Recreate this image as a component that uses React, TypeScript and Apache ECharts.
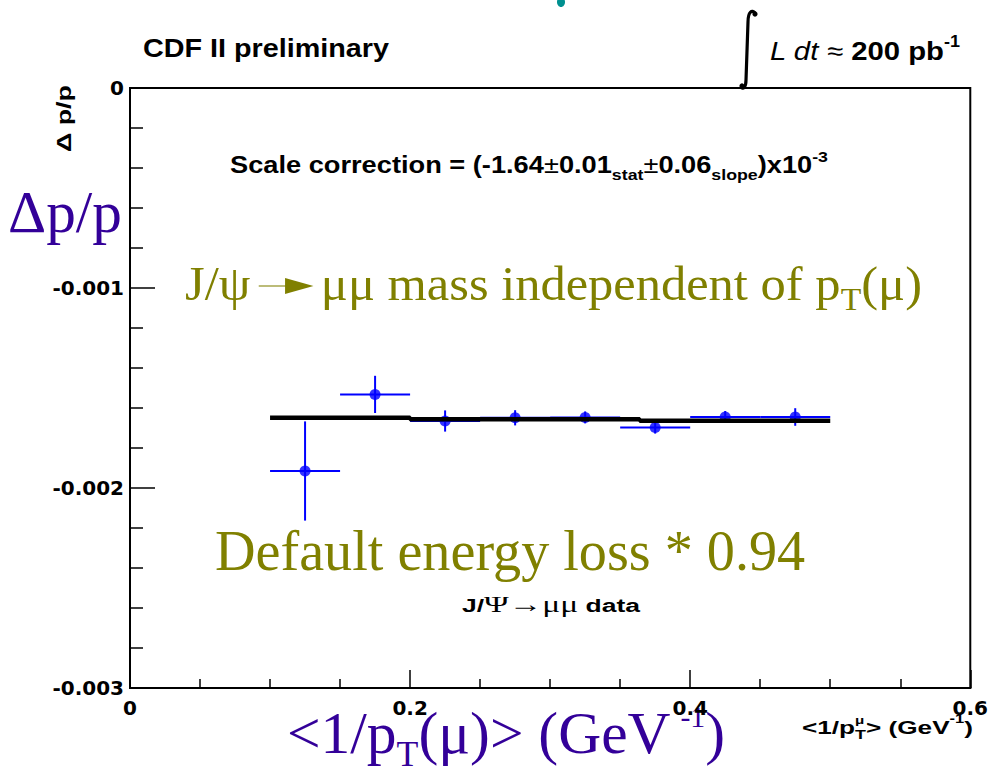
import React, { useEffect, useRef } from 'react';
import * as echarts from 'echarts';

// ---- data ----
const binCenters = [0.125, 0.175, 0.225, 0.275, 0.325, 0.375, 0.425, 0.475];
const binHalfWidths = [0.025, 0.025, 0.025, 0.025, 0.025, 0.025, 0.025, 0.025];
const dpOverP = [-0.001915, -0.001532, -0.001665, -0.001649, -0.001647, -0.001698, -0.001645, -0.001645];
const dpErrors = [0.000248, 0.000093, 0.000053, 0.000038, 0.00003, 0.00003, 0.00003, 0.000044];
const fitEdges = [0.1, 0.2, 0.364, 0.5];
const fitLevels = [-0.0016485, -0.0016565, -0.0016635];
const xTickLabels = ['0', '0.2', '0.4', '0.6'];
const yTickLabels = ['-0.003', '-0.002', '-0.001', '0'];

const SANS = 'Liberation Sans';
const SERIF = 'Liberation Serif';
const OLIVE = '#808000';
const PURPLE = '#330099';
const BLUE = '#0000ff';

type Seg = {
  t?: string;
  size?: number;
  fam?: string;
  w?: string;
  it?: boolean;
  dy?: number;
  stay?: boolean;
  gap?: number;
  arrow?: boolean;
};

let measureCtx: CanvasRenderingContext2D | null = null;
function fontStr(s: Seg) {
  return `${s.it ? 'italic ' : ''}${s.w || 'normal'} ${s.size}px "${s.fam || SANS}"`;
}
function measure(s: Seg) {
  if (!measureCtx) measureCtx = document.createElement('canvas').getContext('2d');
  measureCtx!.font = fontStr(s);
  return measureCtx!.measureText(s.t || '').width;
}

function block(
  segs: Seg[],
  opt: { x: number; y: number; fill: string; width?: number; align?: 'left' | 'center'; rotation?: number }
) {
  const widths = segs.map((s) => (s.gap !== undefined ? s.gap : measure(s)));
  let raw = 0;
  segs.forEach((s, i) => {
    if (!s.stay) raw += widths[i];
  });
  const k = opt.width ? opt.width / raw : 1;
  const total = raw * k;
  const children: any[] = [];
  let x = 0;
  segs.forEach((s, i) => {
    if (s.gap !== undefined) {
      if (s.arrow) {
        const cy = -14;
        children.push({
          type: 'line',
          shape: { x1: x + 8 * k, y1: cy, x2: x + 34 * k, y2: cy },
          style: { stroke: opt.fill, lineWidth: 1.5, opacity: 0.7 },
        });
        children.push({
          type: 'polygon',
          shape: { points: [[x + 33 * k, cy - 8], [x + 60 * k, cy], [x + 33 * k, cy + 8]] },
          style: { fill: opt.fill },
        });
      }
      x += widths[i] * k;
      return;
    }
    const size = s.size || 16;
    children.push({
      type: 'text',
      x,
      y: (s.dy || 0) - 0.345 * size,
      scaleX: k,
      style: {
        text: s.t,
        fill: opt.fill,
        fontSize: size,
        fontFamily: s.fam || SANS,
        fontWeight: s.w || 'normal',
        fontStyle: s.it ? 'italic' : 'normal',
        align: 'left',
        verticalAlign: 'middle',
      },
    });
    if (!s.stay) x += widths[i] * k;
  });
  const x0 = opt.align === 'center' ? opt.x - total / 2 : opt.x;
  return {
    type: 'group',
    x: x0,
    y: opt.y,
    rotation: opt.rotation || 0,
    silent: true,
    children,
  };
}

const integralPath = 'M 755 13 C 752 9 748 12 748 22 L 746 80 C 746 87 743 90 741 87';
echarts.graphic.registerShape('integralSign', echarts.graphic.extendPath(integralPath, {}) as any);

export default function App() {
  const ref = useRef<HTMLDivElement>(null);

  useEffect(() => {
    if (!ref.current) return;
    const chart = echarts.init(ref.current, undefined, { renderer: 'svg' });

    const errData = binCenters.map((c, i) => [c, dpOverP[i], binHalfWidths[i], dpErrors[i]]);
    const pointData = binCenters.map((c, i) => [c, dpOverP[i]]);
    const fitData: number[][] = [];
    fitLevels.forEach((lv, i) => {
      fitData.push([fitEdges[i], lv]);
      fitData.push([fitEdges[i + 1], lv]);
    });

    const B = 'bold';
    const graphics: any[] = [
      // teal fragment of slide title
      { type: 'ellipse', shape: { cx: 561, cy: 2, rx: 4, ry: 5 }, style: { fill: '#009090' }, silent: true },
      block([{ t: 'CDF II preliminary', size: 25, w: B }], { x: 143, y: 57, fill: '#000', width: 246 }),
      { type: 'integralSign', x: 0, y: 0, style: { stroke: '#000', lineWidth: 3.2, fill: 'none' }, silent: true },
      { type: 'circle', shape: { cx: 755, cy: 14, r: 2.6 }, style: { fill: '#000' }, silent: true },
      { type: 'circle', shape: { cx: 742, cy: 86, r: 2.6 }, style: { fill: '#000' }, silent: true },
      block(
        [
          { t: 'L dt', size: 26, it: true },
          { t: ' \u2248 ', size: 26 },
          { t: '200 pb', size: 26, w: B },
          { t: '-1', size: 16, w: B, dy: -13 },
        ],
        { x: 770, y: 60, fill: '#000', width: 190 }
      ),
      block([{ t: '\u0394 p/p', size: 21, w: B }], { x: 71, y: 152, fill: '#000', width: 67, rotation: Math.PI / 2 }),
      block([{ t: '\u0394p/p', size: 60, fam: SERIF }], { x: 8, y: 233, fill: PURPLE, width: 114 }),
      block(
        [
          { t: 'Scale correction = (-1.64', size: 23, w: B },
          { t: '\u00b1', size: 23 },
          { t: '0.01', size: 23, w: B },
          { t: 'stat', size: 15, w: B, dy: 7 },
          { t: '\u00b1', size: 23 },
          { t: '0.06', size: 23, w: B },
          { t: 'slope', size: 15, w: B, dy: 7 },
          { t: ')x10', size: 23, w: B },
          { t: '-3', size: 15, w: B, dy: -11 },
        ],
        { x: 230, y: 173, fill: '#000', width: 598 }
      ),
      block(
        [
          { t: 'J/\u03c8', size: 48, fam: SERIF },
          { gap: 67, arrow: true },
          { t: '\u03bc\u03bc mass independent of p', size: 48, fam: SERIF },
          { t: 'T', size: 32, fam: SERIF, dy: 10 },
          { t: '(\u03bc)', size: 48, fam: SERIF },
        ],
        { x: 185, y: 300, fill: OLIVE, width: 737 }
      ),
      block([{ t: 'Default energy loss * 0.94', size: 56, fam: SERIF }], { x: 215, y: 570, fill: OLIVE, width: 590 }),
      block(
        [
          { t: 'J/', size: 19, w: B },
          { t: '\u03a8\u2192\u03bc\u03bc', size: 24, fam: SERIF },
          { t: ' data', size: 19, w: B },
        ],
        { x: 462, y: 612, fill: '#000', width: 178 }
      ),
      block(
        [
          { t: '<1/p', size: 60, fam: SERIF },
          { t: 'T', size: 36, fam: SERIF, dy: 12 },
          { t: '(\u03bc)> (GeV', size: 60, fam: SERIF },
          { gap: 10 },
          { t: '-1', size: 30, fam: SERIF, dy: -27 },
          { t: ')', size: 60, fam: SERIF },
        ],
        { x: 287, y: 754, fill: PURPLE, width: 438 }
      ),
      block(
        [
          { t: '<1/p', size: 19, w: B },
          { t: '\u03bc', size: 11, w: B, dy: -10, stay: true },
          { t: 'T', size: 13, w: B, dy: 5 },
          { t: '> (GeV', size: 19, w: B },
          { t: '-1', size: 12, w: B, dy: -11 },
          { t: ')', size: 19, w: B },
        ],
        { x: 802, y: 734, fill: '#000', width: 171 }
      ),
    ];

    const tickLine = { color: '#000', width: 1.5 };
    const labelFont = { fontFamily: 'DejaVu Sans', fontWeight: 'bold' as const, fontSize: 20, color: '#000' };

    chart.setOption({
      animation: false,
      backgroundColor: '#fff',
      grid: {
        left: 130,
        right: 16,
        top: 88,
        bottom: 89,
        show: true,
        borderColor: '#000',
        borderWidth: 2,
        backgroundColor: 'transparent',
      },
      xAxis: {
        type: 'value',
        min: 0,
        max: 0.6,
        interval: 0.2,
        axisLine: { show: true, onZero: false, lineStyle: { color: '#000', width: 2 } },
        axisTick: { show: true, inside: true, length: 18, lineStyle: tickLine },
        minorTick: { show: true, splitNumber: 4, length: 9, lineStyle: tickLine },
        splitLine: { show: false },
        axisLabel: {
          ...labelFont,
          margin: 10,
          showMaxLabel: true,
          showMinLabel: true,
          formatter: (v: number) => xTickLabels[Math.round(v / 0.2)] ?? '',
        },
      },
      yAxis: {
        type: 'value',
        min: -0.003,
        max: 0,
        interval: 0.001,
        axisLine: { show: true, onZero: false, lineStyle: { color: '#000', width: 2 } },
        axisTick: { show: true, inside: true, length: 25, lineStyle: tickLine },
        minorTick: { show: true, splitNumber: 5, length: 13, lineStyle: tickLine },
        splitLine: { show: false },
        axisLabel: {
          ...labelFont,
          margin: 6,
          showMaxLabel: true,
          showMinLabel: true,
          formatter: (v: number) => yTickLabels[Math.round(v / 0.001) + 3] ?? '',
        },
      },
      series: [
        {
          type: 'custom',
          name: 'errors',
          silent: true,
          z: 2,
          encode: { x: 0, y: 1 },
          data: errData,
          renderItem: (_p: any, api: any) => {
            const x = api.value(0);
            const y = api.value(1);
            const xe = api.value(2);
            const ye = api.value(3);
            const l = api.coord([x - xe, y]);
            const r = api.coord([x + xe, y]);
            const t = api.coord([x, y + ye]);
            const b = api.coord([x, y - ye]);
            return {
              type: 'group',
              children: [
                { type: 'line', shape: { x1: l[0], y1: l[1], x2: r[0], y2: r[1] }, style: { stroke: BLUE, lineWidth: 2 } },
                { type: 'line', shape: { x1: t[0], y1: t[1], x2: b[0], y2: b[1] }, style: { stroke: BLUE, lineWidth: 2 } },
              ],
            };
          },
        },
        {
          type: 'scatter',
          name: 'data',
          silent: true,
          z: 3,
          symbol: 'circle',
          symbolSize: 11,
          itemStyle: { color: BLUE },
          data: pointData,
        },
        {
          type: 'line',
          name: 'fit',
          silent: true,
          z: 4,
          showSymbol: false,
          symbol: 'none',
          lineStyle: { color: '#000', width: 4.5 },
          data: fitData,
        },
      ],
      graphic: graphics,
    });

    return () => chart.dispose();
  }, []);

  return (
    <div
      ref={ref}
      style={{ position: 'fixed', left: 0, top: 0, width: 991, height: 777, background: '#fff' }}
    />
  );
}
